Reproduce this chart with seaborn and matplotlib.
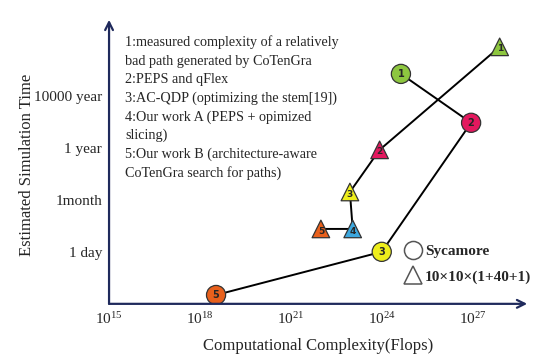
import matplotlib.pyplot as plt
import numpy as np
import pandas as pd
import seaborn as sns
from matplotlib.lines import Line2D

# --- data ---
# x: computational complexity in Flops, y: time level (1 = 1 day, 2 = 1month, 3 = 1 year, 4 = 10000 year)
circle_ids = ['1', '2', '3', '5']
circle_flops = [4.3e24, 8.9e26, 1.0e24, 3.4e18]
circle_time = [4.42, 3.48, 1.0, 0.17]

triangle_ids = ['1', '2', '3', '4', '5']
triangle_flops = [7.8e27, 8.5e23, 8.9e22, 1.1e23, 9.8e21]
triangle_time = [4.94, 2.96, 2.15, 1.44, 1.44]

id_colors = {'1': '#8dc63f', '2': '#e3185e', '3': '#eeee1c', '4': '#3ca7de', '5': '#e8601c'}

time_ticks = [1, 2, 3, 4, 5]
time_labels = ['1 day', '1month', '1 year', '10000 year', '']
flop_ticks = [1e15, 1e18, 1e21, 1e24, 1e27]
flop_labels = ['$10^{15}$', '$10^{18}$', '$10^{21}$', '$10^{24}$', '$10^{27}$']

notes = [
    '1:measured complexity of a relatively',
    'bad path generated by CoTenGra',
    '2:PEPS and qFlex',
    '3:AC-QDP (optimizing the stem[19])',
    '4:Our work A (PEPS + opimized',
    'slicing)',
    '5:Our work B (architecture-aware',
    'CoTenGra search for paths)',
]

circles = pd.DataFrame({'id': circle_ids, 'flops': circle_flops, 'time': circle_time})
triangles = pd.DataFrame({'id': triangle_ids, 'flops': triangle_flops, 'time': triangle_time})

sns.set_style("white")
plt.rcParams['font.family'] = ['Liberation Serif', 'DejaVu Serif']
plt.rcParams['mathtext.fontset'] = 'custom'
plt.rcParams['mathtext.rm'] = 'Liberation Serif'
plt.rcParams['mathtext.it'] = 'Liberation Serif:italic'

navy = '#1f2a5c'

fig = plt.figure(figsize=(5.48, 3.6), dpi=100)
ax = fig.add_axes([0.199, 0.156, 0.763, 0.789])

# connecting lines
for df in (circles, triangles):
    sns.lineplot(data=df, x='flops', y='time', sort=False, estimator=None,
                 color='black', lw=1.4, ax=ax, zorder=2)

# markers
sns.scatterplot(data=circles, x='flops', y='time', hue='id', palette=id_colors,
                marker='o', s=190, edgecolor='#333333', linewidth=0.9,
                legend=False, ax=ax, zorder=3)
sns.scatterplot(data=triangles, x='flops', y='time', hue='id', palette=id_colors,
                marker='^', s=160, edgecolor='#333333', linewidth=0.9,
                legend=False, ax=ax, zorder=3)

for _, r in circles.iterrows():
    ax.annotate(r['id'], (r['flops'], r['time']), ha='center', va='center',
                fontsize=7, fontweight='bold', family='DejaVu Sans', zorder=4)
for _, r in triangles.iterrows():
    ax.annotate(r['id'], (r['flops'], r['time']), xytext=(0, -1.5),
                textcoords='offset points', ha='center', va='center',
                fontsize=6.5, fontweight='bold', family='DejaVu Sans', zorder=4)

ax.set_xscale('log')
ax.set_xlim(1e15, 10 ** 28.8)
ax.set_ylim(0, 5.46)
ax.set_xticks(flop_ticks)
ax.set_xticklabels(flop_labels)
ax.minorticks_off()
ax.set_yticks(time_ticks)
ax.set_yticklabels(time_labels)
ax.tick_params(axis='both', direction='in', length=3, width=1.2, color=navy,
               labelsize=11, pad=5)

for s in ax.spines.values():
    s.set_visible(False)
ax.annotate('', xy=(1, 0), xytext=(0, 0), xycoords='axes fraction',
            arrowprops=dict(arrowstyle='->', color=navy, lw=1.6,
                            shrinkA=0, shrinkB=0, mutation_scale=14))
ax.annotate('', xy=(0, 1), xytext=(0, 0), xycoords='axes fraction',
            arrowprops=dict(arrowstyle='->', color=navy, lw=1.6,
                            shrinkA=0, shrinkB=0, mutation_scale=14))

ax.set_xlabel('Computational Complexity(Flops)', fontsize=12, labelpad=8)
ax.set_ylabel('Estimated Simulation Time', fontsize=12)
ax.yaxis.set_label_coords(-0.177, 0.49)

for i, line in enumerate(notes):
    ax.text(0.038, 0.92 - i * 0.0655, line, transform=ax.transAxes,
            fontsize=10.2, va='center', ha='left')

handles = [
    Line2D([], [], marker='o', ls='', markersize=13, markerfacecolor='white',
           markeredgecolor='#555555', markeredgewidth=1.1),
    Line2D([], [], marker='^', ls='', markersize=13, markerfacecolor='white',
           markeredgecolor='#555555', markeredgewidth=1.1),
]
ax.legend(handles, ['Sycamore', '10×10×(1+40+1)'], loc='upper left',
          bbox_to_anchor=(0.69, 0.23), frameon=False, handletextpad=0.2,
          labelspacing=0.75, borderaxespad=0, handlelength=1.2,
          prop={'weight': 'bold', 'size': 11})

fig.savefig('out.png', dpi=100)
